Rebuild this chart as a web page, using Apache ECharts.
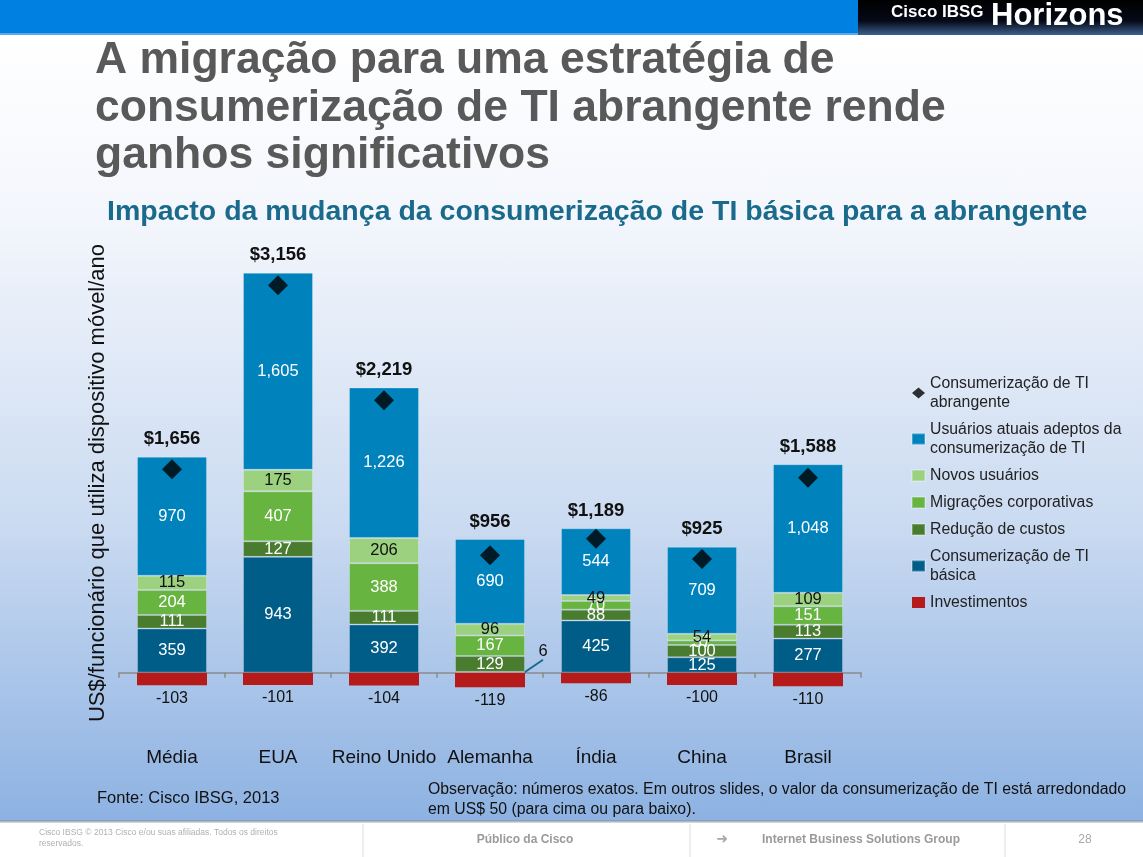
<!DOCTYPE html>
<html><head><meta charset="utf-8">
<script src="https://cdn.jsdelivr.net/npm/echarts@6/dist/echarts.min.js"></script>
<style>
html,body{margin:0;padding:0;}
#c{width:1143px;height:857px;background:linear-gradient(to bottom,#ffffff 0px,#ffffff 35px,#f3f6fc 220px,#cbdbf1 520px,#8db2e2 820px,#8db2e2 857px);}
</style></head><body><div id="c"></div>
<script>
const categories = ['Média','EUA','Reino Unido','Alemanha','Índia','China','Brasil'];
const basica = [359, 943, 392, 6, 425, 125, 277];
const reducao = [111, 127, 111, 129, 88, 100, 113];
const migracoes = [204, 407, 388, 167, 70, 37, 151];
const novos = [115, 175, 206, 96, 49, 54, 109];
const atuais = [970, 1605, 1226, 690, 544, 709, 1048];
const investimentos = [-103, -101, -104, -119, -86, -100, -110];
const abrangente = [1656, 3156, 2219, 956, 1090, 925, 1588];
const totalLabels = ['$1,656', '$3,156', '$2,219', '$956', '$1,189', '$925', '$1,588'];

const names = {
  abr: 'Consumerização de TI abrangente',
  atu: 'Usuários atuais adeptos da consumerização de TI',
  nov: 'Novos usuários',
  mig: 'Migrações corporativas',
  red: 'Redução de custos',
  bas: 'Consumerização de TI básica',
  inv: 'Investimentos'
};
const legendWrap = {
  'Consumerização de TI abrangente': 'Consumerização de TI\nabrangente',
  'Usuários atuais adeptos da consumerização de TI': 'Usuários atuais adeptos da\nconsumerização de TI',
  'Consumerização de TI básica': 'Consumerização de TI\nbásica'
};
const colors = {
  atu: '#0083bc', nov: '#9bd17f', mig: '#67b441', red: '#4a7c2f', bas: '#005d87', inv: '#b51b1b'
};

const positiveTop = categories.map((c, i) => basica[i] + reducao[i] + migracoes[i] + novos[i] + atuais[i]);

const FONT = '"Liberation Sans", Arial, sans-serif';
const labelW = {show: true, position: 'inside', color: '#ffffff', fontSize: 16.5, fontFamily: FONT};
const labelB = {show: true, position: 'inside', color: '#111111', fontSize: 16.5, fontFamily: FONT};
const segBorder = {borderColor: 'rgba(255,255,255,0.25)', borderWidth: 1};

const chart = echarts.init(document.getElementById('c'), null, {renderer: 'canvas'});
chart.setOption({
  animation: false,
  backgroundColor: 'transparent',
  textStyle: {fontFamily: FONT},
  grid: {left: 119, width: 742, top: 243, height: 491, containLabel: false},
  legend: {
    orient: 'vertical', left: 906, top: 369, itemGap: 8, itemWidth: 13, itemHeight: 11,
    textStyle: {fontSize: 15.8, lineHeight: 19, color: '#222', fontFamily: FONT},
    formatter: n => legendWrap[n] || n,
    data: [
      {name: names.abr, icon: 'diamond', itemStyle: {color: '#000'}},
      {name: names.atu, icon: 'rect'},
      {name: names.nov, icon: 'rect'},
      {name: names.mig, icon: 'rect'},
      {name: names.red, icon: 'rect'},
      {name: names.bas, icon: 'rect'},
      {name: names.inv, icon: 'rect'}
    ]
  },
  xAxis: {
    type: 'category', data: categories,
    axisLine: {onZero: true, lineStyle: {color: '#8c8c8c', width: 1.5}},
    axisTick: {show: true, length: 5, lineStyle: {color: '#8c8c8c', width: 1.5}},
    axisLabel: {interval: 0, margin: 14, fontSize: 19, color: '#111', fontFamily: FONT, hideOverlap: false},
    splitLine: {show: false}
  },
  yAxis: {type: 'value', min: -500, max: 3500, show: false, splitLine: {show: false}},
  series: [
    {name: names.bas, type: 'bar', stack: 'a', barWidth: 70, data: basica.map((v, i) => i === 3 ? {value: v, label: {color: '#111'}, labelLine: {show: true, lineStyle: {color: '#1a6a8c', width: 2}}} : v),
      itemStyle: Object.assign({color: colors.bas}, segBorder), label: labelW,
      labelLayout: p => p.dataIndex === 3 ? {dx: 53, dy: -21} : {}},
    {name: names.red, type: 'bar', stack: 'a', data: reducao, itemStyle: Object.assign({color: colors.red}, segBorder), label: labelW},
    {name: names.mig, type: 'bar', stack: 'a', data: migracoes, itemStyle: Object.assign({color: colors.mig}, segBorder), label: labelW},
    {name: names.nov, type: 'bar', stack: 'a', data: novos, itemStyle: Object.assign({color: colors.nov}, segBorder), label: labelB},
    {name: names.atu, type: 'bar', stack: 'a', data: atuais, itemStyle: Object.assign({color: colors.atu}, segBorder), label: Object.assign({}, labelW, {formatter: p => p.value.toLocaleString('en-US')})},
    {name: names.inv, type: 'bar', stack: 'a', data: investimentos, itemStyle: {color: colors.inv},
      label: {show: true, position: 'bottom', distance: 5, color: '#111', fontSize: 16, fontFamily: FONT}},
    {name: 'totais', type: 'bar', barGap: '-100%', barWidth: 70, data: positiveTop, itemStyle: {color: 'rgba(0,0,0,0)'}, silent: true,
      label: {show: true, position: 'top', distance: 8, color: '#111', fontSize: 18.5, fontWeight: 'bold', fontFamily: FONT,
        formatter: p => totalLabels[p.dataIndex]}},
    {name: names.abr, type: 'scatter', symbol: 'diamond', symbolSize: 20, z: 5, data: abrangente, itemStyle: {color: '#000'}}
  ],
  graphic: [
    {type: 'rect', shape: {x: 0, y: 0, width: 1143, height: 33}, style: {fill: '#0080e0'}, z: 1},
    {type: 'rect', shape: {x: 0, y: 33, width: 1143, height: 2}, style: {fill: '#5aa9ec'}, z: 1},
    {type: 'rect', shape: {x: 858, y: 0, width: 285, height: 35},
      style: {fill: new echarts.graphic.LinearGradient(0, 0, 0, 1, [{offset: 0, color: '#000000'}, {offset: 0.6, color: '#050a18'}, {offset: 1, color: '#3d5f8f'}])}, z: 2},
    {type: 'text', x: 891, y: 12, z: 3, style: {text: 'Cisco IBSG', fill: '#fff', font: 'bold 17px ' + FONT, textVerticalAlign: 'middle'}},
    {type: 'text', x: 991, y: 16, z: 3, style: {text: 'Horizons', fill: '#fff', font: 'bold 31px ' + FONT, textVerticalAlign: 'middle'}},
    {type: 'text', x: 95, y: 37, z: 3, style: {text: 'A migração para uma estratégia de\nconsumerização de TI abrangente rende\nganhos significativos', fill: '#595959', font: 'bold 44.5px ' + FONT, lineHeight: 47.5}},
    {type: 'text', x: 107, y: 212, z: 3, style: {text: 'Impacto da mudança da consumerização de TI básica para a abrangente', fill: '#1a6a8c', font: 'bold 28.5px ' + FONT, textVerticalAlign: 'middle'}},
    {type: 'text', x: 98, y: 483, rotation: Math.PI / 2, z: 3, style: {text: 'US$/funcionário que utiliza dispositivo móvel/ano', fill: '#111', font: '22px ' + FONT, textAlign: 'center', textVerticalAlign: 'middle'}},
    {type: 'text', x: 97, y: 798, z: 3, style: {text: 'Fonte: Cisco IBSG, 2013', fill: '#111', font: '16.5px ' + FONT, textVerticalAlign: 'middle'}},
    {type: 'text', x: 428, y: 780, z: 3, style: {text: 'Observação: números exatos. Em outros slides, o valor da consumerização de TI está arredondado\nem US$ 50 (para cima ou para baixo).', fill: '#111', font: '15.8px ' + FONT, lineHeight: 20}},
    {type: 'rect', shape: {x: 0, y: 820, width: 1143, height: 4}, style: {fill: new echarts.graphic.LinearGradient(0, 0, 0, 1, [{offset: 0, color: '#7f8fa6'}, {offset: 1, color: '#ffffff'}])}, z: 1},
    {type: 'rect', shape: {x: 0, y: 823, width: 1143, height: 34}, style: {fill: '#ffffff'}, z: 1},
    {type: 'line', shape: {x1: 363, y1: 824, x2: 363, y2: 857}, style: {stroke: '#dddddd', lineWidth: 1}, z: 2},
    {type: 'line', shape: {x1: 690, y1: 824, x2: 690, y2: 857}, style: {stroke: '#dddddd', lineWidth: 1}, z: 2},
    {type: 'line', shape: {x1: 1005, y1: 824, x2: 1005, y2: 857}, style: {stroke: '#dddddd', lineWidth: 1}, z: 2},
    {type: 'text', x: 39, y: 827, z: 3, style: {text: 'Cisco IBSG © 2013 Cisco e/ou suas afiliadas. Todos os direitos\nreservados.', fill: '#b0b0b0', font: '8.5px ' + FONT, lineHeight: 11}},
    {type: 'text', x: 525, y: 840, z: 3, style: {text: 'Público da Cisco', fill: '#9a9a9a', font: 'bold 12px ' + FONT, textAlign: 'center', textVerticalAlign: 'middle'}},
    {type: 'text', x: 722, y: 839, z: 3, style: {text: '➜', fill: '#a8a8a8', font: 'bold 14px "DejaVu Sans", sans-serif', textAlign: 'center', textVerticalAlign: 'middle'}},
    {type: 'text', x: 762, y: 840, z: 3, style: {text: 'Internet Business Solutions Group', fill: '#9a9a9a', font: 'bold 12px ' + FONT, textVerticalAlign: 'middle'}},
    {type: 'text', x: 1085, y: 840, z: 3, style: {text: '28', fill: '#a8a8a8', font: '12px ' + FONT, textAlign: 'center', textVerticalAlign: 'middle'}}
  ]
});
</script>
</body></html>
